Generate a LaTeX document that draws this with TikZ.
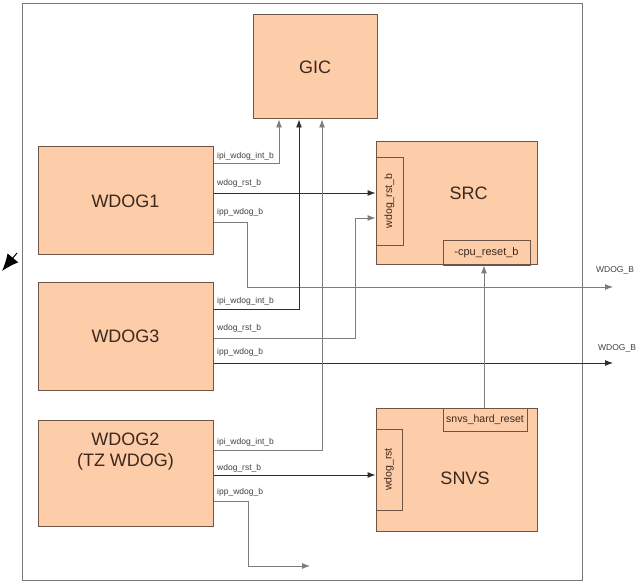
\documentclass[tikz,border=0pt]{standalone}
\usepackage{fontspec}
\setmainfont{Liberation Sans}
\usetikzlibrary{arrows.meta}
\definecolor{boxfill}{RGB}{253,204,168}
\definecolor{boxline}{RGB}{110,85,70}
\definecolor{boxtext}{RGB}{60,40,30}
\definecolor{darkln}{RGB}{45,45,45}
\definecolor{grayln}{RGB}{125,125,125}
\definecolor{sigtext}{RGB}{65,65,65}
\definecolor{framecol}{RGB}{120,120,120}
\begin{document}
\begin{tikzpicture}[x=1pt,y=-1pt,
  blk/.style={draw=boxline,fill=boxfill,line width=1pt,inner sep=0pt,text=boxtext,font=\fontsize{18}{21}\selectfont,align=center},
  blklabel/.style={inner sep=0pt,text=boxtext,font=\fontsize{18}{21}\selectfont,align=center},
  subblk/.style={draw=boxline,line width=0.9pt,inner sep=0pt,text=boxtext,font=\fontsize{10.5}{12}\selectfont},
  sig/.style={anchor=west,text=sigtext,font=\fontsize{8.5}{10}\selectfont,inner sep=0pt},
  outlabel/.style={anchor=west,text=sigtext,font=\fontsize{8.5}{10}\selectfont,inner sep=0pt},
  dk/.style={draw=darkln,line width=0.9pt},
  gr/.style={draw=grayln,line width=0.9pt},
  tip/.style={-{Latex[length=8pt,width=6pt]}},
]
\useasboundingbox (0,0) rectangle (641,583);
\clip (0,0) rectangle (641,583);
\fill[white] (0,0) rectangle (641,583);

% outer frame
\node[draw=framecol,line width=1pt,minimum width=560pt,minimum height=576pt,inner sep=0pt] (frame) at (302,292) {};

% blocks
\node[blk,minimum width=124pt,minimum height=104pt] (gic) at (315,67) {GIC};
\node[blk,minimum width=175pt,minimum height=108pt] (w1) at (125.5,201) {WDOG1};
\node[blk,minimum width=175pt,minimum height=107pt] (w3) at (125.5,336.5) {WDOG3};
\node[blk,minimum width=175pt,minimum height=106pt] (w2) at (125.5,473) {};
\node[blklabel] (w2l) at (125.5,452) {WDOG2\\(TZ WDOG)};

\node[blk,minimum width=161pt,minimum height=123pt] (src) at (456.5,203.5) {};
\node[blklabel] (srcl) at (468.5,193.5) {SRC};
\node[subblk,rotate=90,minimum width=88pt,minimum height=27pt] (srcin) at (389.5,201) {wdog\_rst\_b};
\node[subblk,minimum width=87pt,minimum height=25pt,font=\fontsize{11}{12}\selectfont] (srccpu) at (486.5,252.5) {-cpu\_reset\_b};

\node[blk,minimum width=161pt,minimum height=123pt] (snvs) at (456.5,469.5) {};
\node[blklabel] (snvsl) at (465,478.5) {SNVS};
\node[subblk,minimum width=84pt,minimum height=23pt] (snvstop) at (485,419.5) {snvs\_hard\_reset};
\node[subblk,rotate=90,minimum width=81pt,minimum height=26pt] (snvsin) at (389,469.5) {wdog\_rst};

% free ends
\coordinate (outB) at (613,287);
\coordinate (outR) at (613,363);
\coordinate (out2) at (310,566);

% WDOG1 connections
\draw[gr,tip] (w1.east |- 0,163) -| (gic.south -| 279,0);
\draw[dk,tip] (w1.east |- 0,193) -- (srcin.north |- 0,193);
\draw[gr,tip] (w1.east |- 0,222) -| (247,287) -- (outB);

% WDOG3 connections
\draw[dk,tip] (w3.east |- 0,309) -| (gic.south -| 299,0);
\draw[gr,tip] (w3.east |- 0,338) -| (355,218) -- (srcin.north |- 0,218);
\draw[dk,tip] (w3.east |- 0,363) -- (outR);

% WDOG2 connections
\draw[gr,tip] (w2.east |- 0,450) -| (gic.south -| 322,0);
\draw[dk,tip] (w2.east |- 0,475) -- (snvsin.north |- 0,475);
\draw[gr,tip] (w2.east |- 0,501) -| (248,566) -- (out2);

% SNVS hard reset to SRC
\draw[gr,tip] (snvstop.north -| 484,0) -- (srccpu.south -| 484,0);

% signal labels
\node[sig] (l1a) at (217,156) {ipi\_wdog\_int\_b};
\node[sig] (l1b) at (217,183) {wdog\_rst\_b};
\node[sig] (l1c) at (217,212) {ipp\_wdog\_b};
\node[sig] (l3a) at (217,301) {ipi\_wdog\_int\_b};
\node[sig] (l3b) at (217,328) {wdog\_rst\_b};
\node[sig] (l3c) at (217,352) {ipp\_wdog\_b};
\node[sig] (l2a) at (217,442) {ipi\_wdog\_int\_b};
\node[sig] (l2b) at (217,468) {wdog\_rst\_b};
\node[sig] (l2c) at (217,492) {ipp\_wdog\_b};

\node[outlabel] (ob) at (596,270) {WDOG\_B};
\node[outlabel] (or) at (598,348) {WDOG\_B};

% stray arrowhead at left
\coordinate (la1) at (17,253);
\coordinate (la2) at (2,271);
\draw[draw=black,line width=1pt,-{Latex[length=17pt,width=14pt]}] (la1) -- (la2);
\end{tikzpicture}
\end{document}
